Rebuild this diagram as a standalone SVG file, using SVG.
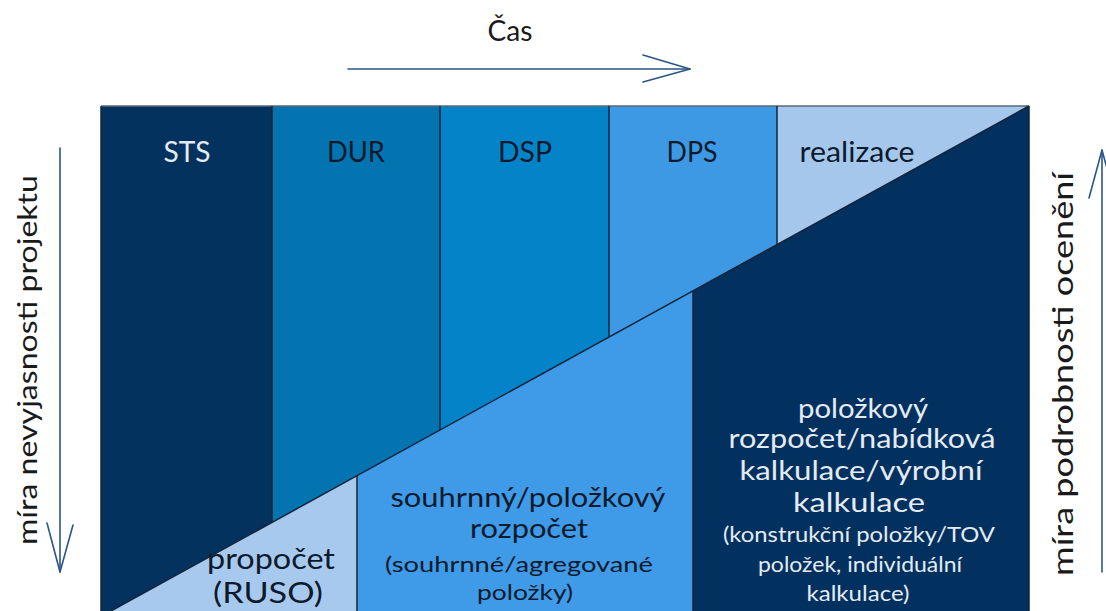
<svg xmlns="http://www.w3.org/2000/svg" width="1106" height="611" viewBox="0 0 1106 611">
<style>
.t{font-family:Lato,"Open Sans","Liberation Sans",sans-serif;text-anchor:middle}
.big{font-size:29px}
.mid{font-size:27px}
.sm{font-size:22px}
.dk{fill:#0c1a2c}
.lt{fill:#e4ebf3}
.div{stroke:#12243a;stroke-width:1.5;fill:none}
.arr{stroke:#2b5684;stroke-width:1.6;fill:none;stroke-linecap:round;stroke-linejoin:round}
</style>
<rect x="0" y="0" width="1106" height="611" fill="#ffffff"/>
<g id="phase-sts"><polygon points="101,106 272,106 272,522.4 111,611 101,611" fill="#04325f"/><text class="t big lt" x="187" y="162" textLength="47" lengthAdjust="spacingAndGlyphs">STS</text></g>
<g id="phase-dur"><polygon points="272,106 440,106 440,430 272,522.4" fill="#0474b0"/><text class="t big dk" x="356" y="162" textLength="58" lengthAdjust="spacingAndGlyphs">DUR</text></g>
<g id="phase-dsp"><polygon points="440,106 609,106 609,337 440,430" fill="#0583c8"/><text class="t big dk" x="525" y="162" textLength="54" lengthAdjust="spacingAndGlyphs">DSP</text></g>
<g id="phase-dps"><polygon points="609,106 777,106 777,244.6 609,337" fill="#3e99e5"/><text class="t big dk" x="692" y="162" textLength="51" lengthAdjust="spacingAndGlyphs">DPS</text></g>
<g id="phase-realizace"><polygon points="777,106 1029,106 777,244.6" fill="#a5c7ec"/><text class="t big dk" x="857" y="162" textLength="115" lengthAdjust="spacingAndGlyphs">realizace</text></g>
<g id="est-propocet"><polygon points="111,611 357,475.7 357,611" fill="#a8c9ee"/>
<text class="t dk" style="font-size:28px" x="271" y="569" textLength="128" lengthAdjust="spacingAndGlyphs">propočet</text>
<text class="t dk" style="font-size:28px" x="268" y="603" textLength="110" lengthAdjust="spacingAndGlyphs">(RUSO)</text></g>
<g id="est-souhrnny"><polygon points="357,475.7 693,290.8 693,611 357,611" fill="#3f9be8"/>
<text class="t dk" style="font-size:26px" x="528" y="507" textLength="275" lengthAdjust="spacingAndGlyphs">souhrnný/položkový</text>
<text class="t dk" style="font-size:26px" x="529" y="538" textLength="118" lengthAdjust="spacingAndGlyphs">rozpočet</text>
<text class="t sm dk" x="519" y="572" textLength="268" lengthAdjust="spacingAndGlyphs">(souhrnné/agregované</text>
<text class="t sm dk" x="525" y="600" textLength="96" lengthAdjust="spacingAndGlyphs">položky)</text></g>
<g id="est-polozkovy"><polygon points="693,290.8 1029,106 1029,611 693,611" fill="#03315f"/>
<text class="t mid lt" x="863" y="418" textLength="130" lengthAdjust="spacingAndGlyphs">položkový</text>
<text class="t mid lt" x="862" y="448" textLength="267" lengthAdjust="spacingAndGlyphs">rozpočet/nabídková</text>
<text class="t mid lt" x="861" y="480" textLength="243" lengthAdjust="spacingAndGlyphs">kalkulace/výrobní</text>
<text class="t mid lt" x="859" y="512" textLength="132" lengthAdjust="spacingAndGlyphs">kalkulace</text>
<text class="t sm lt" x="859" y="542" textLength="272" lengthAdjust="spacingAndGlyphs">(konstrukční položky/TOV</text>
<text class="t sm lt" x="860" y="572" textLength="204" lengthAdjust="spacingAndGlyphs">položek, individuální</text>
<text class="t sm lt" x="858" y="601" textLength="103" lengthAdjust="spacingAndGlyphs">kalkulace)</text></g>
<g id="connectors">
<line x1="101" y1="106" x2="1029" y2="106" stroke="#5a6878" stroke-width="1.5"/>
<line x1="1029" y1="106" x2="1029" y2="611" class="div"/>
<line x1="101" y1="106" x2="101" y2="611" class="div"/>
<line x1="1029" y1="106" x2="111" y2="611" class="div"/>
<line x1="272" y1="106" x2="272" y2="522.4" class="div"/>
<line x1="440" y1="106" x2="440" y2="430" class="div"/>
<line x1="609" y1="106" x2="609" y2="337" class="div"/>
<line x1="777" y1="106" x2="777" y2="244.6" class="div"/>
<line x1="357" y1="475.7" x2="357" y2="611" class="div"/>
<line x1="693" y1="290.8" x2="693" y2="611" class="div"/>
<line x1="348" y1="69" x2="690" y2="69" class="arr"/>
<polyline points="643,55 690,69 643,82" class="arr"/>
<line x1="60" y1="148" x2="60" y2="572" class="arr"/>
<polyline points="47,523 60,572 73,525" class="arr"/>
<line x1="1102" y1="572" x2="1102" y2="150" class="arr"/>
<polyline points="1089,198 1102,150 1115,198" class="arr"/>
</g>
<g id="labels">
<text class="t" style="font-size:28px;fill:#1a1a1a" x="510" y="41" textLength="45" lengthAdjust="spacingAndGlyphs">Čas</text>
<text class="t" style="font-size:26px;fill:#1a1a1a" transform="translate(37,360) rotate(-90)" textLength="370" lengthAdjust="spacingAndGlyphs">míra nevyjasnosti projektu</text>
<text class="t" style="font-size:28px;fill:#1a1a1a" transform="translate(1073,374) rotate(-90)" textLength="404" lengthAdjust="spacingAndGlyphs">míra podrobnosti ocenění</text>
</g>
</svg>
